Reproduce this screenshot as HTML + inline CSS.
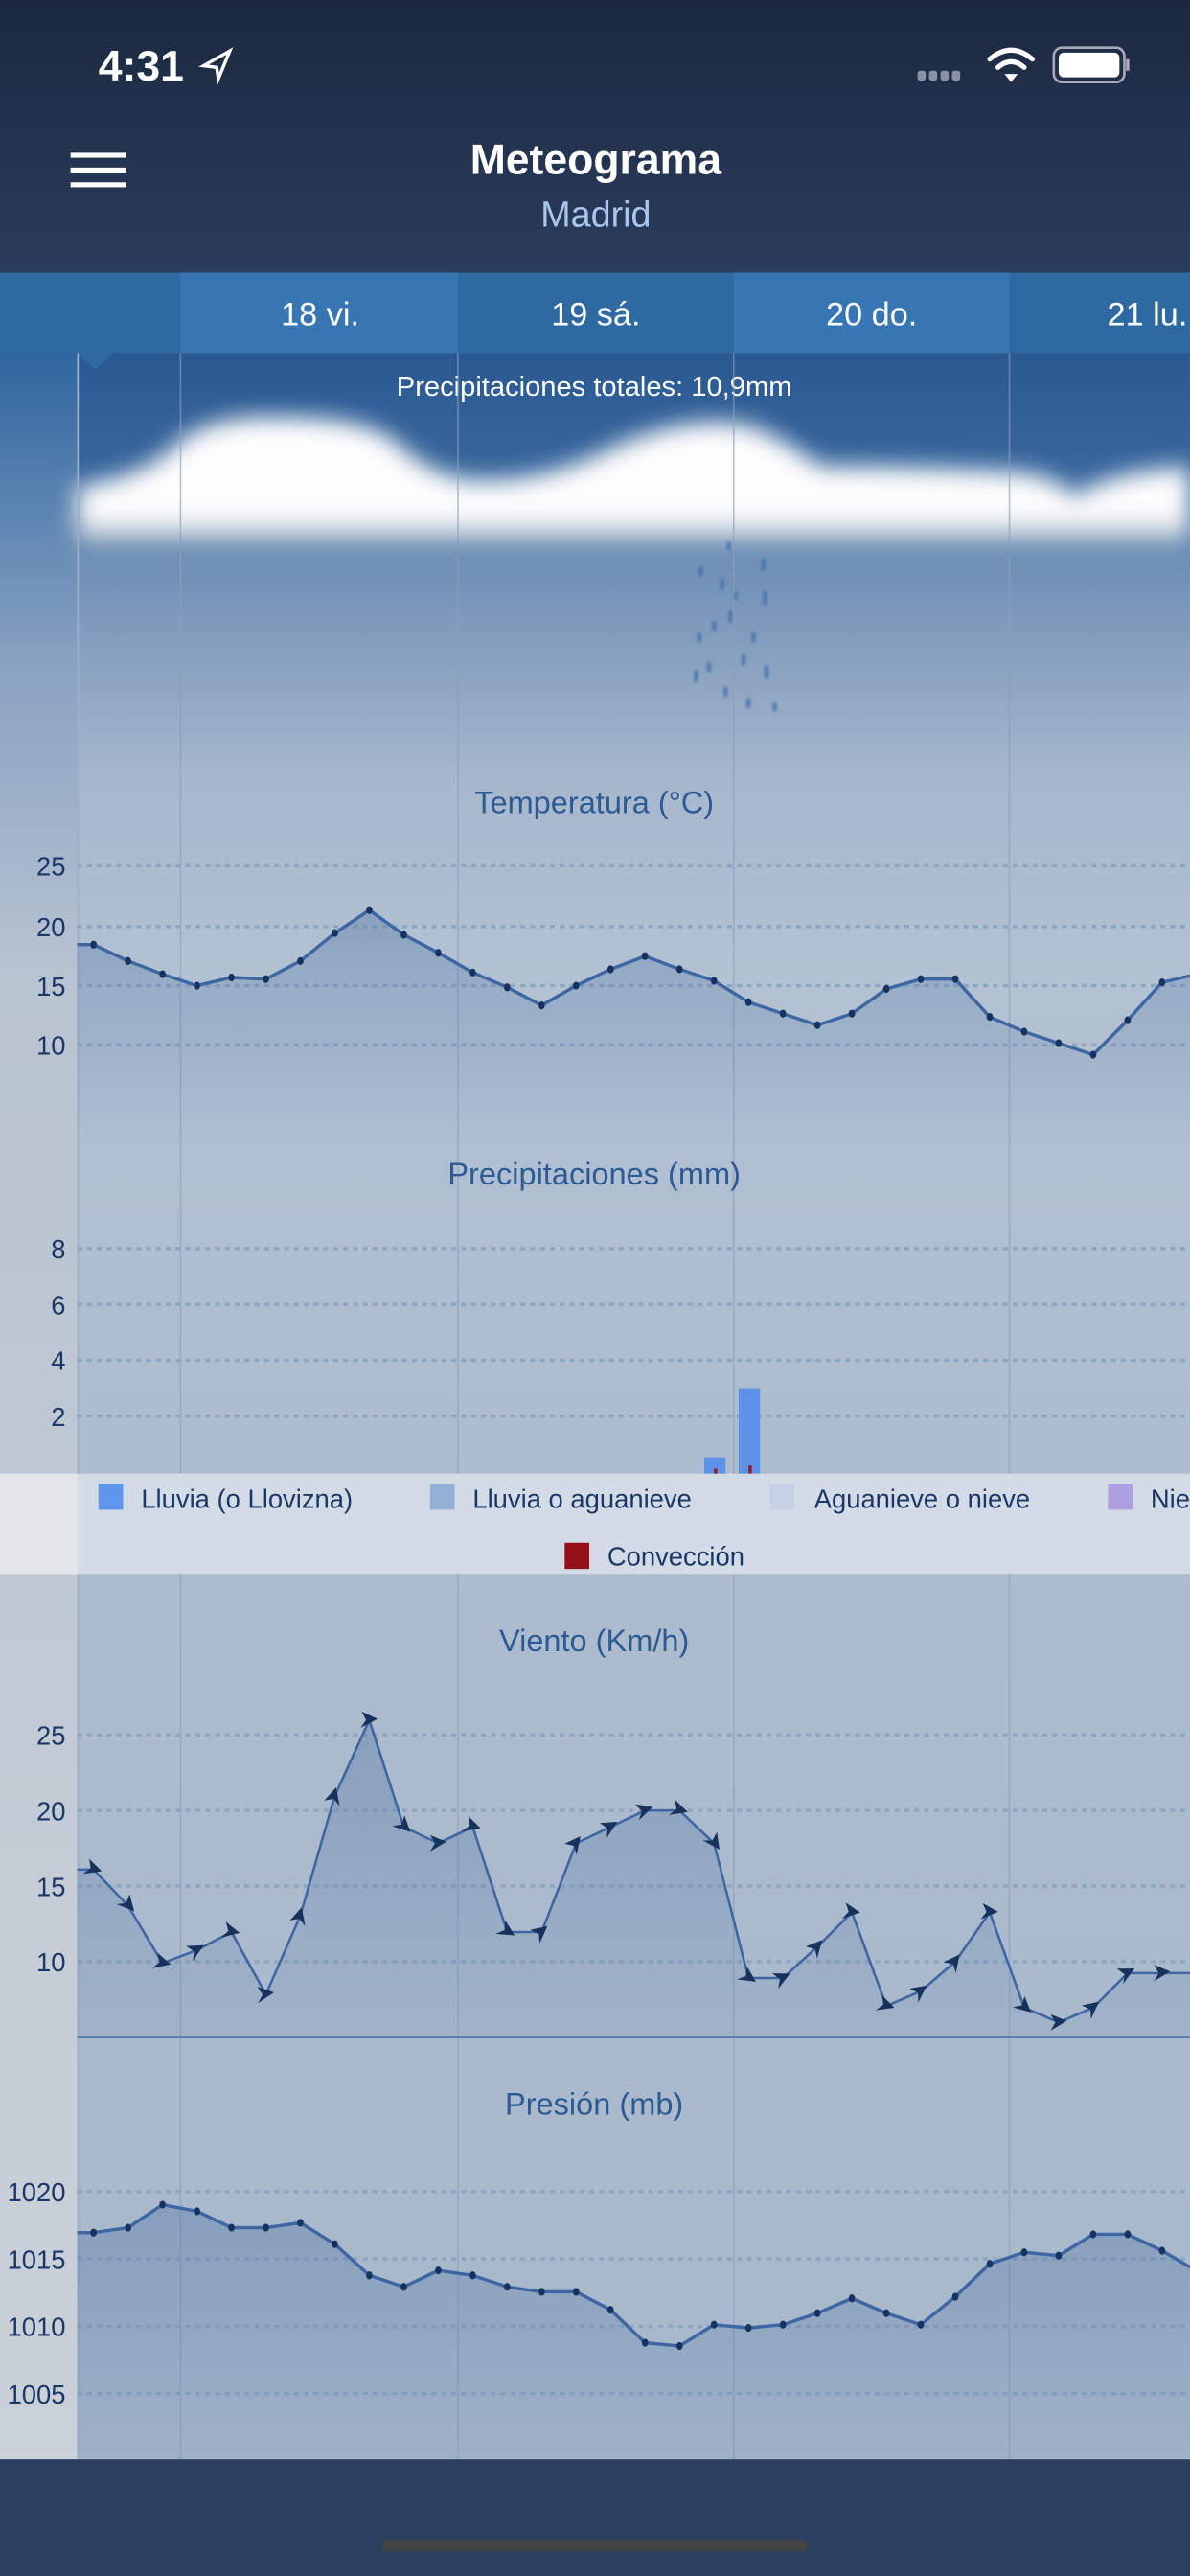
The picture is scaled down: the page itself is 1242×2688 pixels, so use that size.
<!DOCTYPE html>
<html><head><meta charset="utf-8"><style>
html,body{margin:0;padding:0;width:1242px;height:2688px;overflow:hidden;background:#2c3f5e}
svg{display:block}
text{font-family:"Liberation Sans",sans-serif}
</style></head><body>
<svg width="1242" height="2688" viewBox="0 0 725 1568" preserveAspectRatio="none" xmlns="http://www.w3.org/2000/svg">
<defs>
<linearGradient id="hdr" x1="0" y1="0" x2="0" y2="1"><stop offset="0" stop-color="#1b2840"/><stop offset="1" stop-color="#2b3d5c"/></linearGradient>
<linearGradient id="chart" x1="0" y1="0" x2="0" y2="1">
<stop offset="0" stop-color="#2a5891"/><stop offset="0.07" stop-color="#3c6aa0"/><stop offset="0.1" stop-color="#6f8fb6"/><stop offset="0.2" stop-color="#a6b7cc"/><stop offset="0.3" stop-color="#b3c2d3"/><stop offset="0.45" stop-color="#aebdcf"/><stop offset="1" stop-color="#a8b8cb"/></linearGradient>
<linearGradient id="gut" x1="0" y1="0" x2="0" y2="1">
<stop offset="0" stop-color="#2f66a0"/><stop offset="0.15" stop-color="#8aa3c2"/><stop offset="0.3" stop-color="#b9c4d1"/><stop offset="1" stop-color="#cbd1d9"/></linearGradient>
<linearGradient id="fill" x1="0" y1="0" x2="0" y2="1"><stop offset="0" stop-color="#5c7eaa" stop-opacity="0.45"/><stop offset="1" stop-color="#5c7eaa" stop-opacity="0.12"/></linearGradient>
<linearGradient id="fillT" x1="0" y1="0" x2="0" y2="1"><stop offset="0" stop-color="#5c7eaa" stop-opacity="0.45"/><stop offset="0.6" stop-color="#5c7eaa" stop-opacity="0.2"/><stop offset="1" stop-color="#5c7eaa" stop-opacity="0"/></linearGradient>
<filter id="blur" x="-10%" y="-50%" width="120%" height="200%"><feGaussianBlur stdDeviation="7"/></filter>
<filter id="blur2"><feGaussianBlur stdDeviation="1"/></filter>
<marker id="dot" viewBox="-4 -4 8 8" markerWidth="6" markerHeight="6" markerUnits="userSpaceOnUse"><ellipse cx="0" cy="0" rx="2.6" ry="3.2" fill="#16335f"/></marker>
<marker id="arr" viewBox="-6 -6 12 12" markerWidth="12" markerHeight="12" markerUnits="userSpaceOnUse" orient="auto"><path d="M5,-1 L-5,-5 L-2,0 L-5,5 Z" fill="#17325c"/></marker>
</defs>
<rect x="0" y="0" width="725" height="166" fill="url(#hdr)"/>
<text x="60" y="49" font-size="26" fill="#fff" font-weight="bold">4:31</text>
<path d="M124,40 L140,31 L133,48 L132,41 Z" fill="none" stroke="#fff" stroke-width="2"/>
<g fill="#8a93a3"><rect x="559" y="43" width="5" height="6" rx="1.5"/><rect x="566" y="43" width="5" height="6" rx="1.5"/><rect x="573" y="43" width="5" height="6" rx="1.5"/><rect x="580" y="43" width="5" height="6" rx="1.5"/></g>
<g fill="none" stroke="#fff" stroke-width="3" stroke-linecap="round"><path d="M603,36 Q616,25 629,36"/><path d="M608,41 Q616,34 624,41"/></g><path d="M612,45 L616,50 L620,45 Z" fill="#fff"/>
<rect x="642" y="29" width="43" height="21" rx="5" fill="none" stroke="#aab" stroke-width="1.5"/><rect x="645" y="32" width="37" height="15" rx="3" fill="#fff"/><rect x="686" y="36" width="2" height="7" fill="#aab"/>
<g fill="#fff"><rect x="43" y="93" width="34" height="3"/><rect x="43" y="102" width="34" height="3"/><rect x="43" y="111" width="34" height="3"/></g>
<text x="363" y="106" font-size="26" fill="#fff" font-weight="bold" text-anchor="middle">Meteograma</text>
<text x="363" y="138" font-size="22" fill="#a9c7ee" text-anchor="middle">Madrid</text>
<rect x="0" y="166" width="725" height="49" fill="#2f69a2"/>
<rect x="110" y="166" width="169" height="49" fill="#3875b3"/>
<rect x="447" y="166" width="168" height="49" fill="#3875b3"/>
<g font-size="20" fill="#fff" text-anchor="middle"><text x="195" y="198">18 vi.</text><text x="363" y="198">19 sá.</text><text x="531" y="198">20 do.</text><text x="699" y="198">21 lu.</text></g>
<rect x="0" y="215" width="47" height="1282" fill="url(#gut)"/>
<rect x="47" y="215" width="678" height="1282" fill="url(#chart)"/>
<path d="M47,215 L69,215 L58,225 Z" fill="#2f69a2"/>
<g filter="url(#blur)">
<path d="M47,296 Q90,290 110,268 Q130,252 175,254 Q220,254 240,268 Q265,292 290,292 Q330,294 370,274 Q420,250 460,260 Q485,272 500,284 Q560,284 610,287 Q640,287 655,302 Q675,287 725,284 L725,320 L47,320 Z" fill="#fdfdfd"/>
<rect x="47" y="318" width="678" height="12" fill="#c4ceda"/>
</g>
<text x="362" y="241" font-size="17" fill="#fff" text-anchor="middle">Precipitaciones totales: 10,9mm</text>
<g fill="#3f6eaa" filter="url(#blur2)"><rect x="426" y="345" width="2" height="6"/><rect x="439" y="352" width="2" height="7"/><rect x="443" y="330" width="2" height="5"/><rect x="464" y="340" width="2" height="7"/><rect x="465" y="360" width="2" height="8"/><rect x="444" y="372" width="2" height="7"/><rect x="434" y="378" width="2" height="6"/><rect x="425" y="385" width="2" height="6"/><rect x="452" y="398" width="2" height="7"/><rect x="466" y="405" width="2" height="8"/><rect x="423" y="408" width="2" height="7"/><rect x="431" y="403" width="2" height="6"/><rect x="441" y="418" width="2" height="6"/><rect x="455" y="425" width="2" height="6"/><rect x="471" y="428" width="2" height="5"/><rect x="458" y="385" width="2" height="6"/><rect x="447" y="360" width="2" height="5"/></g>
<g stroke="#8aa0ba" stroke-width="1" opacity="0.6"><line x1="110" y1="215" x2="110" y2="1497"/><line x1="279" y1="215" x2="279" y2="1497"/><line x1="447" y1="215" x2="447" y2="1497"/><line x1="615" y1="215" x2="615" y2="1497"/></g>
<line x1="47.5" y1="215" x2="47.5" y2="1497" stroke="#9fb0c5" stroke-width="1"/>
<g stroke="#8ea5c0" stroke-width="2" stroke-dasharray="3,3">
<line x1="47" y1="527" x2="725" y2="527"/><line x1="47" y1="564" x2="725" y2="564"/><line x1="47" y1="600" x2="725" y2="600"/><line x1="47" y1="636" x2="725" y2="636"/>
<line x1="47" y1="760" x2="725" y2="760"/><line x1="47" y1="794" x2="725" y2="794"/><line x1="47" y1="828" x2="725" y2="828"/><line x1="47" y1="862" x2="725" y2="862"/>
<line x1="47" y1="1056" x2="725" y2="1056"/><line x1="47" y1="1102" x2="725" y2="1102"/><line x1="47" y1="1148" x2="725" y2="1148"/><line x1="47" y1="1194" x2="725" y2="1194"/>
<line x1="47" y1="1334" x2="725" y2="1334"/><line x1="47" y1="1375" x2="725" y2="1375"/><line x1="47" y1="1416" x2="725" y2="1416"/><line x1="47" y1="1457" x2="725" y2="1457"/>
</g>
<g font-size="19" fill="#2c5a95" text-anchor="middle"><text x="362" y="495">Temperatura (°C)</text><text x="362" y="721">Precipitaciones (mm)</text><text x="362" y="1005">Viento (Km/h)</text><text x="362" y="1287">Presión (mb)</text></g>
<g font-size="16" fill="#1b3767" text-anchor="end">
<text x="40" y="533">25</text><text x="40" y="570">20</text><text x="40" y="606">15</text><text x="40" y="642">10</text>
<text x="40" y="766">8</text><text x="40" y="800">6</text><text x="40" y="834">4</text><text x="40" y="868">2</text>
<text x="40" y="1062">25</text><text x="40" y="1108">20</text><text x="40" y="1154">15</text><text x="40" y="1200">10</text>
<text x="40" y="1340">1020</text><text x="40" y="1381">1015</text><text x="40" y="1422">1010</text><text x="40" y="1463">1005</text>
</g>
<path d="M47,575 L57,575 78,585 99,593 120,600 141,595 162,596 183,585 204,568 225,554 246,569 267,580 288,592 309,601 330,612 351,600 372,590 393,582 414,590 435,597 456,610 477,617 498,624 519,617 540,602 561,596 582,596 603,619 624,628 645,635 666,642 687,621 708,598 725,594 L725,700 L47,700 Z" fill="url(#fillT)"/>
<polyline points="47,575 57,575 78,585 99,593 120,600 141,595 162,596 183,585 204,568 225,554 246,569 267,580 288,592 309,601 330,612 351,600 372,590 393,582 414,590 435,597 456,610 477,617 498,624 519,617 540,602 561,596 582,596 603,619 624,628 645,635 666,642 687,621 708,598 725,594" fill="none" stroke="#3d66a3" stroke-width="2" marker-mid="url(#dot)"/>
<rect x="429" y="887" width="13" height="10" fill="#5b93ea"/><rect x="450" y="845" width="13" height="52" fill="#5b93ea"/>
<rect x="435" y="894" width="2" height="3" fill="#9b1620"/><rect x="456" y="892" width="2" height="5" fill="#9b1620"/>
<rect x="0" y="897" width="725" height="61" fill="#d3dce6"/><rect x="0" y="897" width="47" height="61" fill="#e3e7eb"/>
<g font-size="16" fill="#1b3767">
<rect x="60" y="903" width="15" height="16" fill="#5e96ee"/><text x="86" y="918">Lluvia (o Llovizna)</text>
<rect x="262" y="903" width="15" height="16" fill="#92b2d6"/><text x="288" y="918">Lluvia o aguanieve</text>
<rect x="469" y="903" width="15" height="16" fill="#c5d1e5"/><text x="496" y="918">Aguanieve o nieve</text>
<rect x="675" y="903" width="15" height="16" fill="#ad9fe0"/><text x="701" y="918">Nieve</text>
<rect x="344" y="939" width="15" height="16" fill="#961019"/><text x="370" y="953">Convección</text>
</g>
<path d="M47,1138 L57,1138 78,1160 99,1195 120,1187 141,1176 162,1214 183,1166 204,1093 225,1047 246,1112 267,1122 288,1112 309,1176 330,1176 351,1122 372,1112 393,1102 414,1102 435,1122 456,1204 477,1204 498,1185 519,1164 540,1221 561,1212 582,1194 603,1164 624,1222 645,1231 666,1222 687,1201 708,1201 725,1201 L725,1240 L47,1240 Z" fill="url(#fill)"/>
<line x1="47" y1="1240" x2="725" y2="1240" stroke="#5b7fae" stroke-width="1.5"/>
<polyline points="47,1138 57,1138 78,1160 99,1195 120,1187 141,1176 162,1214 183,1166 204,1093 225,1047 246,1112 267,1122 288,1112 309,1176 330,1176 351,1122 372,1112 393,1102 414,1102 435,1122 456,1204 477,1204 498,1185 519,1164 540,1221 561,1212 582,1194 603,1164 624,1222 645,1231 666,1222 687,1201 708,1201 725,1201" fill="none" stroke="#3d66a3" stroke-width="1.5" marker-mid="url(#arr)"/>
<path d="M47,1359 L57,1359 78,1356 99,1342 120,1346 141,1356 162,1356 183,1353 204,1366 225,1385 246,1392 267,1382 288,1385 309,1392 330,1395 351,1395 372,1406 393,1426 414,1428 435,1415 456,1417 477,1415 498,1408 519,1399 540,1408 561,1415 582,1398 603,1378 624,1371 645,1373 666,1360 687,1360 708,1370 725,1380 L725,1497 L47,1497 Z" fill="url(#fill)"/>
<polyline points="47,1359 57,1359 78,1356 99,1342 120,1346 141,1356 162,1356 183,1353 204,1366 225,1385 246,1392 267,1382 288,1385 309,1392 330,1395 351,1395 372,1406 393,1426 414,1428 435,1415 456,1417 477,1415 498,1408 519,1399 540,1408 561,1415 582,1398 603,1378 624,1371 645,1373 666,1360 687,1360 708,1370 725,1380" fill="none" stroke="#3d66a3" stroke-width="2" marker-mid="url(#dot)"/>
<rect x="0" y="1497" width="725" height="71" fill="#2c3f5e"/>
<rect x="233" y="1546" width="259" height="7" rx="3.5" fill="#444"/>
</svg>
</body></html>
